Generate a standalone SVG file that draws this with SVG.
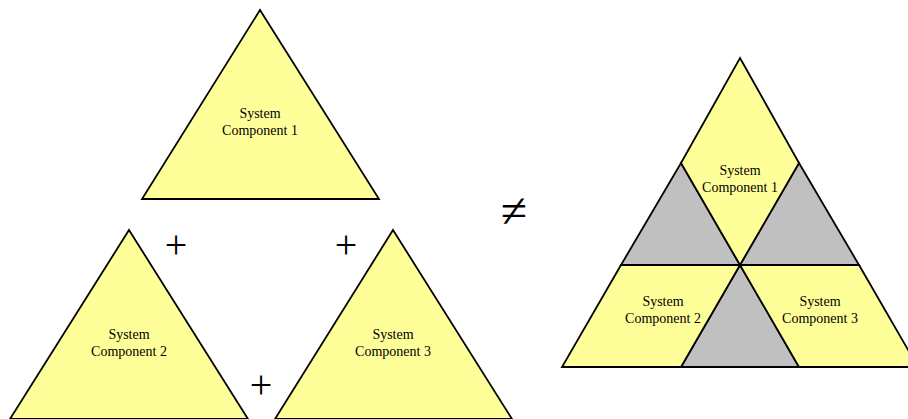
<svg xmlns="http://www.w3.org/2000/svg" width="908" height="419" viewBox="0 0 908 419">
<style>
.y{fill:#FFFF99;stroke:#000;stroke-width:1.8;stroke-linejoin:miter}
.g{fill:#C0C0C0;stroke:#000;stroke-width:1.8}
.t{font-family:"Liberation Serif","Times New Roman",serif;font-size:14px;fill:#000;text-anchor:middle}
.op{font-family:"Liberation Serif","Times New Roman",serif;font-size:40px;fill:#000;text-anchor:middle}
.ne{font-family:"Liberation Serif","Times New Roman",serif;font-size:48px;fill:#000;text-anchor:middle}
</style>
<rect width="908" height="419" fill="#fff"/>
<g id="component1">
<polygon class="y" points="260,10 379,199 142,199"/>
<text class="t" x="260" y="118">System</text>
<text class="t" x="260" y="135">Component 1</text>
</g>
<g id="component2">
<polygon class="y" points="129,230 248,419 10,419"/>
<text class="t" x="129" y="339">System</text>
<text class="t" x="129" y="356">Component 2</text>
</g>
<g id="component3">
<polygon class="y" points="393,230 512,419 275,419"/>
<text class="t" x="393" y="339">System</text>
<text class="t" x="393" y="356">Component 3</text>
</g>
<g id="operators">
<text class="op" x="176" y="258">+</text>
<text class="op" x="346" y="258">+</text>
<text class="op" x="261" y="398">+</text>
<text class="ne" x="514" y="227">≠</text>
</g>
<g id="composite">
<polygon class="g" points="681,163 740,265 621,265"/>
<polygon class="g" points="799,163 859,265 740,265"/>
<polygon class="g" points="740,265 799,367 681,367"/>
<polygon class="y" points="740,58 799,163 740,265 681,163"/>
<polygon class="y" points="621,265 740,265 681,367 562,367"/>
<polygon class="y" points="740,265 859,265 918,367 799,367"/>
<text class="t" x="740" y="175">System</text>
<text class="t" x="740" y="192">Component 1</text>
<text class="t" x="663" y="306">System</text>
<text class="t" x="663" y="323">Component 2</text>
<text class="t" x="820" y="306">System</text>
<text class="t" x="820" y="323">Component 3</text>
</g>
</svg>
